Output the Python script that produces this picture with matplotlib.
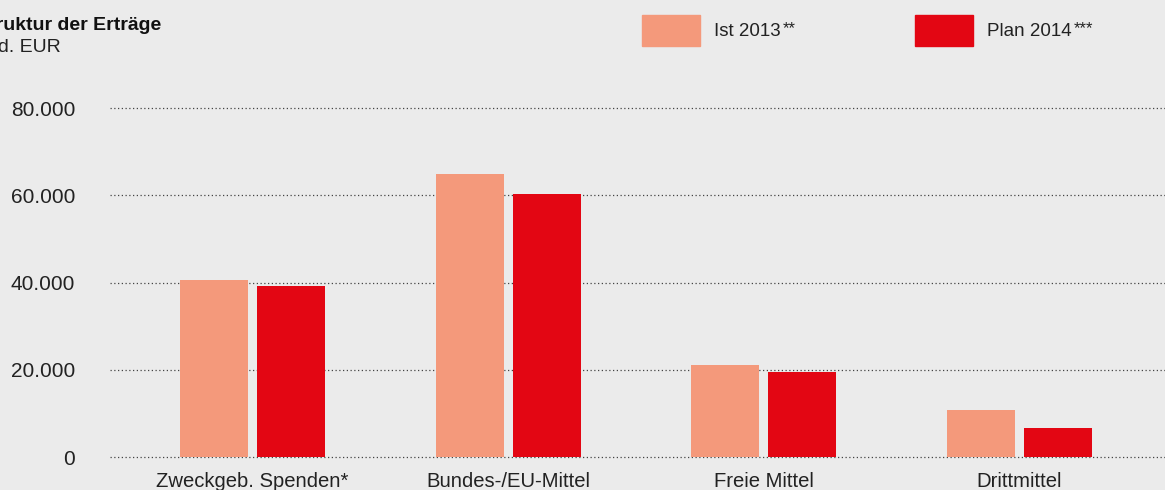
import matplotlib
matplotlib.use("Agg")
import matplotlib.pyplot as plt
from matplotlib.patches import Rectangle
import numpy as np

categories = ["Zweckgeb. Spenden*", "Bundes-/EU-Mittel", "Freie Mittel", "Drittmittel"]
ist_2013 = [40500, 64900, 21100, 10800]
plan_2014 = [39200, 60300, 19500, 6600]
yticks = [0, 20000, 40000, 60000, 80000]
ytick_labels = ["0", "20.000", "40.000", "60.000", "80.000"]

BG = "#ebebeb"
C_IST = "#f4997b"
C_PLAN = "#e30613"
TXT = "#222222"

plt.rcParams['font.family'] = ['Liberation Sans', 'DejaVu Sans']

W, H = 1165, 490
fig = plt.figure(figsize=(W / 100, H / 100), dpi=100, facecolor=BG)
ax = fig.add_axes([110 / W, 33 / H, 1055 / W, 349 / H], facecolor=BG)

x = np.arange(len(categories))
bw = 0.266
off = 0.151
ax.bar(x - off, ist_2013, width=bw, color=C_IST, zorder=3)
ax.bar(x + off, plan_2014, width=bw, color=C_PLAN, zorder=3)

ax.set_xlim(-0.557, 3.569)
ax.set_ylim(0, 80000)
ax.set_yticks(yticks)
ax.set_yticklabels(ytick_labels)
ax.set_xticks(x)
ax.set_xticklabels(categories)

for y in yticks:
    ax.axhline(y, color="#444444", linestyle=(0, (1, 2)), linewidth=0.9, zorder=1, clip_on=False)

for s in ax.spines.values():
    s.set_visible(False)
ax.tick_params(axis="y", length=0, pad=25, labelsize=15, labelcolor=TXT)
ax.tick_params(axis="x", length=0, pad=11, labelsize=14.6, labelcolor=TXT)

# Title
fig.text(161 / W, 1 - 25 / H, "Struktur der Erträge", ha="right", va="center",
         fontsize=14, fontweight="bold", color="#111111")
fig.text(61 / W, 1 - 48 / H, "in Tsd. EUR", ha="right", va="center",
         fontsize=14, color=TXT)

# Legend
for (x0, col, lab, star) in [(642, C_IST, "Ist 2013", "**"), (915, C_PLAN, "Plan 2014", "***")]:
    fig.patches.append(Rectangle((x0 / W, 1 - 46 / H), 58 / W, 31 / H,
                                 transform=fig.transFigure, color=col, figure=fig))
    t = fig.text((x0 + 72) / W, 1 - 31 / H, lab, ha="left", va="center",
                 fontsize=13.5, color=TXT)
    ax.annotate(star, xy=(1, 1), xycoords=t, xytext=(1.5, 1), textcoords="offset points",
                ha="left", va="top", fontsize=12, color=TXT, annotation_clip=False)

fig.savefig("out.png", dpi=100, facecolor=BG)
